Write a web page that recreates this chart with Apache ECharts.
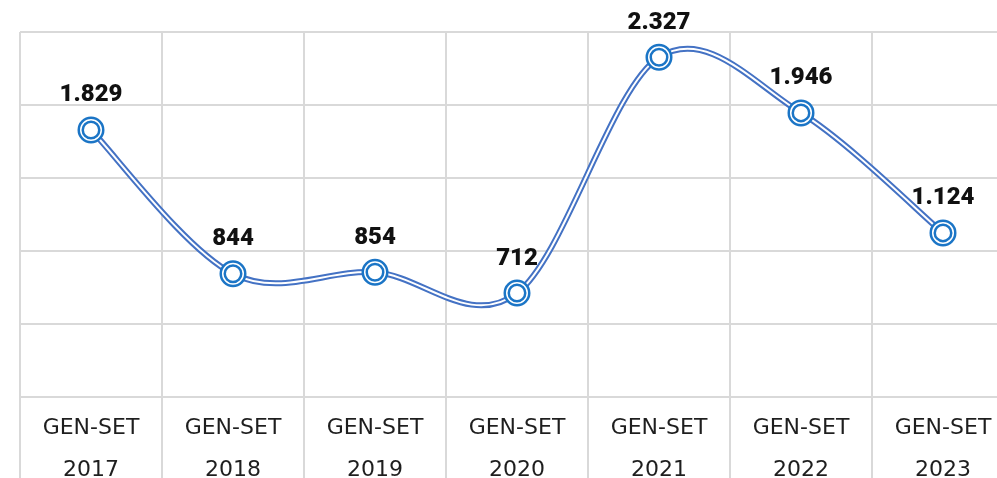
<!DOCTYPE html>
<html><head><meta charset="utf-8">
<script src="https://cdn.jsdelivr.net/npm/echarts@6/dist/echarts.min.js"></script>
<style>html,body{margin:0;padding:0;background:#fff}#c{width:997px;height:478px}</style>
</head><body><div id="c"></div>
<script>
const categories = ['GEN-SET\n2017','GEN-SET\n2018','GEN-SET\n2019','GEN-SET\n2020','GEN-SET\n2021','GEN-SET\n2022','GEN-SET\n2023'];
const values = [1829, 844, 854, 712, 2327, 1946, 1124];
const yMin = 0, yMax = 2500, yInterval = 500;

const lineBlue = '#4472c4';
const ringBlue = '#1b75c6';
const fmt = v => String(v).replace(/\B(?=(\d{3})+(?!\d))/g, '.');

// Catmull-Rom style smooth path through the data points (in pixel space via api.coord)
function renderLine(params, api) {
  if (params.dataIndex !== 0) return null;
  const pts = values.map((v, i) => api.coord([i, v]));
  const n = pts.length;
  let d = 'M' + pts[0][0] + ' ' + pts[0][1];
  for (let i = 0; i < n - 1; i++) {
    const p0 = pts[Math.max(i - 1, 0)], p1 = pts[i], p2 = pts[i + 1], p3 = pts[Math.min(i + 2, n - 1)];
    const c1x = p1[0] + (p2[0] - p0[0]) / 6, c1y = p1[1] + (p2[1] - p0[1]) / 6;
    const c2x = p2[0] - (p3[0] - p1[0]) / 6, c2y = p2[1] - (p3[1] - p1[1]) / 6;
    d += ' C' + c1x + ' ' + c1y + ' ' + c2x + ' ' + c2y + ' ' + p2[0] + ' ' + p2[1];
  }
  return {
    type: 'group',
    children: [
      {type: 'path', shape: {pathData: d}, style: {fill: null, stroke: lineBlue, lineWidth: 6}},
      {type: 'path', shape: {pathData: d}, style: {fill: null, stroke: '#fff', lineWidth: 2}}
    ]
  };
}

const chart = echarts.init(document.getElementById('c'));
chart.setOption({
  animation: false,
  grid: {left: 20, width: 994, top: 32, bottom: 81, containLabel: false, outerBoundsMode: 'none'},
  xAxis: {
    type: 'category', data: categories, boundaryGap: true,
    axisLine: {show: true, lineStyle: {color: '#d9d9d9', width: 2}},
    axisTick: {show: true, length: 81, alignWithLabel: false, lineStyle: {color: '#d9d9d9', width: 2}},
    splitLine: {show: true, lineStyle: {color: '#d9d9d9', width: 2}},
    axisLabel: {color: '#1e1e1e', fontFamily: 'DejaVu Sans', fontSize: 22, lineHeight: 42, margin: 10, interval: 0}
  },
  yAxis: {
    type: 'value', min: yMin, max: yMax, interval: yInterval,
    axisLabel: {show: false}, axisLine: {show: false}, axisTick: {show: false},
    splitLine: {show: true, lineStyle: {color: '#d9d9d9', width: 2}}
  },
  series: [
    {type: 'custom', renderItem: renderLine, data: values.map((v, i) => [i, v]),
     encode: {x: 0, y: 1}, z: 2, silent: true},
    {type: 'scatter', data: values, z: 3, symbol: 'circle', symbolSize: 24.5,
     itemStyle: {color: '#fff', borderColor: ringBlue, borderWidth: 2.5, opacity: 1},
     label: {show: true, position: 'top', distance: 9, formatter: p => fmt(p.value),
       color: '#111', fontFamily: 'Roboto', fontWeight: 900, fontSize: 24}},
    {type: 'scatter', data: values, z: 4, symbol: 'circle', symbolSize: 16.5,
     itemStyle: {color: '#fff', borderColor: ringBlue, borderWidth: 2.5, opacity: 1}, silent: true}
  ]
});
</script></body></html>
